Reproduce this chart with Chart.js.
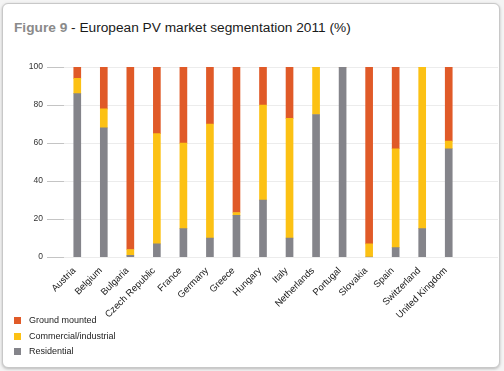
<!DOCTYPE html>
<html>
<head>
<meta charset="utf-8">
<script src="https://cdn.jsdelivr.net/npm/chart.js@4/dist/chart.umd.min.js"></script>
<style>
  body { margin: 0; background: #f4f4f4; font-family: "Liberation Sans", Arial, sans-serif; }
  .card { position: absolute; left: 2px; top: 3px; width: 496px; height: 363px; background: #fff;
          border: 1px solid #c8c8c8; border-radius: 6px; box-shadow: 0 1px 3px rgba(0,0,0,0.25); }
  .title { position: absolute; left: 11px; top: 16px; font-size: 13.7px; color: #1a1a1a; }
  .title b { color: #8a8a8a; }
  #wrap { position: absolute; left: 6px; top: 37px; width: 492px; height: 280px; }
  .legend { position: absolute; left: 11px; top: 311px; font-size: 9px; color: #222; }
  .legend div { height: 15.5px; line-height: 10px; }
  .legend span { display: inline-block; width: 7px; height: 7px; margin-right: 8px; vertical-align: -1px; }
</style>
</head>
<body>
<div class="card">
  <div class="title"><b>Figure 9</b> - European PV market segmentation 2011 (%)</div>
  <div id="wrap"><canvas id="graph"></canvas></div>
  <div class="legend" id="legend"></div>
</div>
<script>
const countries = ['Austria', 'Belgium', 'Bulgaria', 'Czech Republic', 'France', 'Germany', 'Greece',
  'Hungary', 'Italy', 'Netherlands', 'Portugal', 'Slovakia', 'Spain', 'Switzerland', 'United Kingdom'];

const residential = [86, 68, 1, 7, 15, 10, 22, 30, 10, 75, 100, 0, 5, 15, 57];
const commercial  = [8, 10, 3, 58, 45, 60, 1.5, 50, 63, 25, 0, 7, 52, 85, 4];
const ground      = [6, 22, 96, 35, 40, 30, 76.5, 20, 27, 0, 0, 93, 43, 0, 39];

const yTicks = [0, 20, 40, 60, 80, 100];

const red = '#e05a28';
const yellow = '#fcc114';
const grey = '#84848a';

// legend, top to bottom
const legendItems = [['Ground mounted', red], ['Commercial/industrial', yellow], ['Residential', grey]];
const legend = document.querySelector('#legend');
legendItems.forEach(item => {
  const row = document.createElement('div');
  row.innerHTML = '<span style="background:' + item[1] + '"></span>' + item[0];
  legend.appendChild(row);
});

// grid lines in the original run on past the last bar
const gridRunOn = {
  id: 'gridRunOn',
  beforeDatasetsDraw(chart) {
    const ctx = chart.ctx;
    const y = chart.scales.y;
    const area = chart.chartArea;
    ctx.save();
    ctx.strokeStyle = '#ececec';
    ctx.lineWidth = 1;
    yTicks.forEach(v => {
      const py = Math.round(y.getPixelForValue(v)) + 0.5;
      ctx.beginPath();
      ctx.moveTo(area.right, py);
      ctx.lineTo(area.right + 36, py);
      ctx.stroke();
    });
    ctx.restore();
  }
};

const data = {
  labels: countries,
  datasets: [
    { label: 'Residential', data: residential, backgroundColor: grey },
    { label: 'Commercial/industrial', data: commercial, backgroundColor: yellow },
    { label: 'Ground mounted', data: ground, backgroundColor: red }
  ]
};

const config = {
  type: 'bar',
  data: data,
  options: {
    responsive: true,
    maintainAspectRatio: false,
    animation: false,
    datasets: { bar: { barThickness: 7 } },
    layout: { padding: { top: 26, right: 39, left: 0, bottom: 0 } },
    plugins: { legend: { display: false }, tooltip: { enabled: false } },
    scales: {
      x: {
        stacked: true,
        grid: { display: false },
        border: { display: false },
        ticks: {
          color: '#1a1a1a', maxRotation: 45, minRotation: 45, autoSkip: false, padding: 0,
          labelOffset: -3,
          font: { family: 'Liberation Sans', size: 9.5 }
        }
      },
      y: {
        stacked: true,
        min: 0, max: 100,
        afterFit: s => { s.width = 55; },
        afterBuildTicks: s => { s.ticks = yTicks.map(v => ({ value: v })); },
        border: { display: false },
        grid: { color: '#ececec', tickColor: '#c4c4c4', tickLength: 17 },
        ticks: { color: '#333', padding: 4, font: { family: 'Liberation Sans', size: 8.5 } }
      }
    }
  },
  plugins: [gridRunOn]
};

const canvas = document.querySelector('#graph');
new Chart(canvas, config);
</script>
</body>
</html>
